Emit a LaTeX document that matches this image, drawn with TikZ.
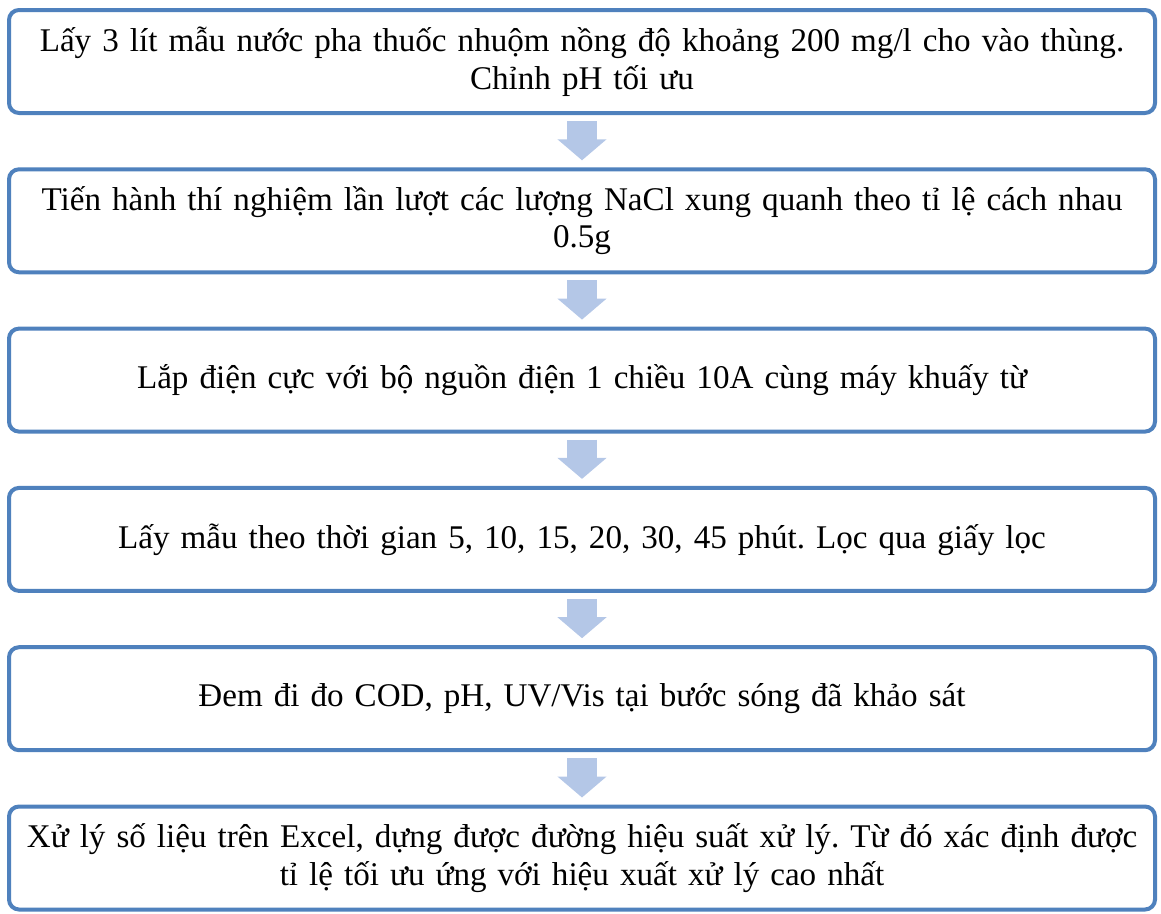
\documentclass[tikz,border=0pt]{standalone}
\usepackage{fontspec}
\setmainfont{Liberation Serif}
\usetikzlibrary{arrows.meta}
\definecolor{boxblue}{RGB}{79,129,189}
\definecolor{arrowblue}{RGB}{180,199,231}
\tikzset{
	stepbox/.style={draw=boxblue, line width=4pt, rounded corners=10pt, fill=white,
		minimum width=1146pt, minimum height=103pt, text width=1140pt, align=center,
		inner sep=0pt, font=\fontsize{33.1pt}{37.5pt}\selectfont},
	blockarrow/.style={draw=arrowblue, line width=30pt,
		-{Triangle[width=48pt, length=21pt]}, shorten <=6pt, shorten >=7pt}
}
\frenchspacing
\begin{document}
\begin{tikzpicture}[x=1pt, y=-1pt]
	\useasboundingbox (0,0) rectangle (1161,913);
	
	\draw (582,  61.5) node[stepbox] (s1) {Lấy 3 lít mẫu nước pha thuốc nhuộm nồng độ khoảng 200 mg/l cho vào thùng.\\ Chỉnh pH tối ưu};
	\draw (582, 220.8) node[stepbox] (s2) {Tiến hành thí nghiệm lần lượt các lượng NaCl xung quanh theo tỉ lệ cách nhau\\ 0.5g};
	\draw (582, 380.1) node[stepbox] (s3) {Lắp điện cực với bộ nguồn điện 1 chiều 10A cùng máy khuấy từ};
	\draw (582, 539.4) node[stepbox] (s4) {Lấy mẫu theo thời gian 5, 10, 15, 20, 30, 45 phút. Lọc qua giấy lọc};
	\draw (582, 698.7) node[stepbox] (s5) {Đem đi đo COD, pH, UV/Vis tại bước sóng đã khảo sát};
	\draw (582, 858.0) node[stepbox] (s6) {Xử lý số liệu trên Excel, dựng được đường hiệu suất xử lý. Từ đó xác định được\\ tỉ lệ tối ưu ứng với hiệu xuất xử lý cao nhất};
	
	\draw[blockarrow] (s1) -- (s2);
	\draw[blockarrow] (s2) -- (s3);
	\draw[blockarrow] (s3) -- (s4);
	\draw[blockarrow] (s4) -- (s5);
	\draw[blockarrow] (s5) -- (s6);
\end{tikzpicture}
\end{document}
